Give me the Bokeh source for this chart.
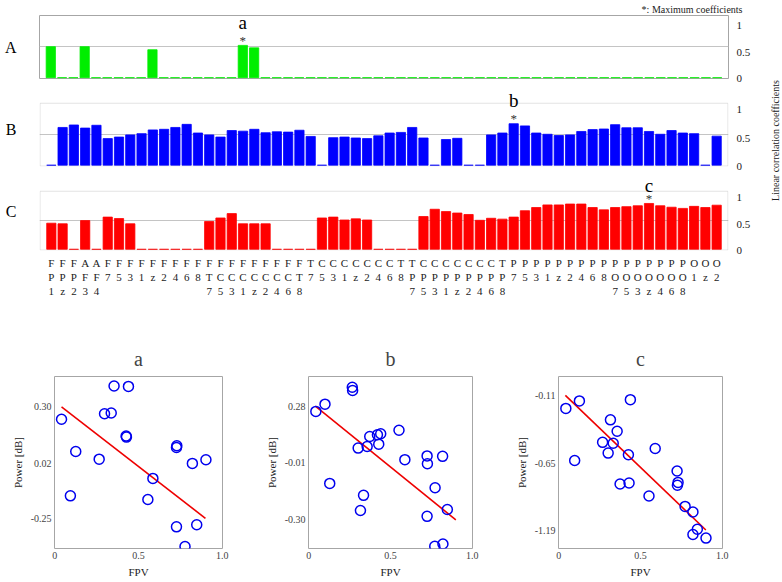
import numpy as np
from bokeh.plotting import figure
from bokeh.models import Range1d, LinearAxis, FixedTicker, Label, PrintfTickFormatter, BoxAnnotation
from bokeh.layouts import column, row
from bokeh.embed import file_html
from bokeh.resources import INLINE

FONT = "Liberation Serif"
EDGE = "#a6a6a6"

channels = ["FP1", "FPz", "FP2", "AF3", "AF4", "F7", "F5", "F3", "F1", "Fz", "F2", "F4", "F6", "F8",
            "FT7", "FC5", "FC3", "FC1", "FCz", "FC2", "FC4", "FC6", "FT8",
            "T7", "C5", "C3", "C1", "Cz", "C2", "C4", "C6", "T8",
            "TP7", "CP5", "CP3", "CP1", "CPz", "CP2", "CP4", "CP6", "TP8",
            "P7", "P5", "P3", "P1", "Pz", "P2", "P4", "P6", "P8",
            "PO7", "PO5", "PO3", "POz", "PO4", "PO6", "PO8", "O1", "Oz", "O2"]

coef_A = [0.50, 0, 0, 0.50, 0, 0, 0, 0, 0, 0.45, 0, 0, 0, 0, 0, 0, 0, 0.52, 0.48, 0,
          0, 0, 0, 0, 0, 0, 0, 0, 0, 0, 0, 0, 0, 0, 0, 0, 0, 0, 0, 0,
          0, 0, 0, 0, 0, 0, 0, 0, 0, 0, 0, 0, 0, 0, 0, 0, 0, 0, 0, 0]

coef_B = [0, 0.61, 0.65, 0.60, 0.645, 0.43, 0.455, 0.49, 0.51, 0.57,
          0.58, 0.61, 0.66, 0.52, 0.49, 0.455, 0.56, 0.55, 0.58, 0.525,
          0.54, 0.535, 0.565, 0.465, 0, 0.445, 0.455, 0.44, 0.43, 0.475,
          0.52, 0.53, 0.61, 0.44, 0, 0.415, 0.435, 0, 0, 0.49,
          0.52, 0.67, 0.635, 0.52, 0.50, 0.48, 0.49, 0.545, 0.575, 0.585,
          0.655, 0.605, 0.605, 0.545, 0.50, 0.56, 0.52, 0.51, 0, 0.47]

coef_C = [0.45, 0.44, 0, 0.495, 0, 0.555, 0.53, 0.44, 0, 0,
          0, 0, 0, 0, 0.48, 0.54, 0.615, 0.44, 0.44, 0.44,
          0, 0, 0, 0, 0.54, 0.555, 0.505, 0.525, 0.505, 0,
          0, 0, 0, 0.565, 0.69, 0.65, 0.625, 0.60, 0.50, 0.535,
          0.52, 0.555, 0.665, 0.72, 0.765, 0.765, 0.78, 0.78, 0.72, 0.68,
          0.72, 0.735, 0.75, 0.79, 0.75, 0.725, 0.705, 0.74, 0.72, 0.76]

max_idx = {"A": 17, "B": 41, "C": 53}
max_tag = {"A": "a", "B": "b", "C": "c"}

fpv_a = [0.040, 0.354, 0.440, 0.297, 0.337, 0.426, 0.428, 0.125, 0.265, 0.093,
         0.586, 0.556, 0.729, 0.727, 0.822, 0.903, 0.727, 0.848, 0.778]
pow_a = [0.239, 0.403, 0.401, 0.266, 0.270, 0.156, 0.151, 0.080, 0.042, -0.139,
         -0.053, -0.157, 0.108, 0.100, 0.021, 0.039, -0.292, -0.282, -0.389]

fpv_b = [0.266, 0.268, 0.099, 0.043, 0.552, 0.373, 0.420, 0.440, 0.428, 0.302,
         0.357, 0.588, 0.724, 0.726, 0.819, 0.128, 0.335, 0.316, 0.773, 0.848,
         0.724, 0.771, 0.821]
pow_b = [0.376, 0.360, 0.290, 0.253, 0.157, 0.125, 0.134, 0.139, 0.086, 0.066,
         0.074, 0.007, 0.026, -0.014, 0.024, -0.114, -0.175, -0.252, -0.136, -0.247,
         -0.282, -0.435, -0.423]

fpv_c = [0.043, 0.126, 0.438, 0.316, 0.357, 0.268, 0.333, 0.302, 0.426, 0.590,
         0.097, 0.375, 0.430, 0.552, 0.724, 0.730, 0.726, 0.773, 0.821, 0.848,
         0.821, 0.901]
pow_c = [-0.214, -0.154, -0.144, -0.305, -0.396, -0.485, -0.492, -0.571, -0.584, -0.534,
         -0.630, -0.818, -0.810, -0.914, -0.714, -0.805, -0.828, -0.997, -1.041, -1.179,
         -1.221, -1.250]

fit_a_x, fit_a_y = [0.04, 0.90], [0.30, -0.25]
fit_b_x, fit_b_y = [0.04, 0.90], [0.28, -0.30]
fit_c_x, fit_c_y = [0.04, 0.90], [-0.11, -1.185]

ticks_a = [-0.25, 0.02, 0.30]
ticks_b = [-0.30, -0.01, 0.28]
ticks_c = [-1.19, -0.65, -0.11]

xpos = list(range(1, len(channels) + 1))
N_SLOTS = len(channels) + 1


def bar_panel(name, values, color, height, top, bottom, with_labels, lab_range,
              y_end, tag_gap):
    if y_end > 1:
        xr = Range1d(-0.05, N_SLOTS + 0.05)
        yr = Range1d(-0.02, y_end)
    else:
        xr = Range1d(0, N_SLOTS)
        yr = Range1d(-0.012, 1)
    p = figure(width=754, height=height, x_range=xr, y_range=yr,
               toolbar_location=None, output_backend="svg",
               x_axis_location="below" if with_labels else None, y_axis_location=None,
               min_border_left=39, min_border_right=26, min_border_top=top,
               min_border_bottom=bottom)
    if y_end > 1:
        # the visible panel box sits inside a taller frame, so the marker
        # letter above it is not clipped
        p.outline_line_color = None
        p.add_layout(BoxAnnotation(left=0, right=N_SLOTS, bottom=-0.012, top=1,
                                   fill_color=None, line_color=EDGE, line_width=1))
    else:
        p.outline_line_color = EDGE
    p.xgrid.visible = False
    p.ygrid.ticker = FixedTicker(ticks=[0.5])
    p.ygrid.grid_line_color = "#c4c4c4"
    p.vbar(x=xpos, top=values, width=0.82, color=color, line_width=0.8)

    la = LinearAxis(ticker=FixedTicker(ticks=[]), axis_label=name)
    la.axis_label_orientation = "horizontal"
    la.axis_label_standoff = 23
    la.axis_label_text_font = FONT
    la.axis_label_text_font_size = "16px"
    la.axis_label_text_font_style = "normal"
    la.axis_label_text_color = "black"
    la.axis_line_color = None
    la.major_tick_out = 0
    la.major_tick_in = 0
    la.minor_tick_out = 0
    la.minor_tick_in = 0
    la.major_label_text_font_size = "0px"
    p.add_layout(la, "left")

    p.extra_y_ranges = {"lab": Range1d(*lab_range)}
    ax = LinearAxis(y_range_name="lab", ticker=FixedTicker(ticks=[0, 0.5, 1]))
    ax.major_label_overrides = {0: "0", 0.5: "0.5", 1: "1"}
    ax.major_tick_out = 0
    ax.major_tick_in = 0
    ax.minor_tick_out = 0
    ax.minor_tick_in = 0
    ax.axis_line_color = None
    ax.major_label_standoff = 8
    ax.major_label_text_font = FONT
    ax.major_label_text_font_size = "11px"
    ax.major_label_text_color = "#222222"
    p.add_layout(ax, "right")
    if with_labels:
        xa = p.xaxis[0]
        xa.ticker = FixedTicker(ticks=xpos)
        xa.major_label_overrides = {i: "\n".join(c) for i, c in zip(xpos, channels)}
        xa.major_tick_out = 0
        xa.major_tick_in = 0
        xa.minor_tick_out = 0
        xa.minor_tick_in = 0
        xa.axis_line_color = None
        xa.major_label_standoff = 6
        xa.major_label_text_font = FONT
        xa.major_label_text_font_size = "11px"
        xa.major_label_text_color = "#222222"
    i = max_idx[name]
    p.add_layout(Label(x=xpos[i], y=values[i] + 0.085, text="*", text_align="center",
                       text_baseline="alphabetic", text_font=FONT, text_font_size="13px",
                       text_color="#333333"))
    p.add_layout(Label(x=xpos[i], y=values[i] + tag_gap, text=max_tag[name], text_align="center",
                       text_baseline="alphabetic", text_font=FONT, text_font_size="19px",
                       text_color="black"))
    return p


pA = bar_panel("A", coef_A, "#00ee00", 89, 14, 11, False, (0.0, 1.196), 1.0, 0.375)
pB = bar_panel("B", coef_B, "#0000ff", 83, 2, 6, False, (0.0, 1.316), 1.19, 0.375)
pC = bar_panel("C", coef_C, "#ff0000", 128, 0, 45, True, (0.0, 1.482), 1.323, 0.31)

pA.title.text = "*: Maximum coefficients"
pA.title.align = "right"
pA.title.offset = -14
pA.title.standoff = 2
pA.title.text_font = FONT
pA.title.text_font_size = "10px"
pA.title.text_font_style = "normal"
pA.title.text_color = "#222222"

labfig = figure(width=26, height=300, x_range=Range1d(0, 1), y_range=Range1d(0, 1),
                x_axis_location=None, y_axis_location=None, min_border=0,
                toolbar_location=None, output_backend="svg")
labfig.outline_line_color = None
labfig.grid.visible = False
labfig.add_layout(Label(x=0.8, y=1 - 140 / 300, angle=np.pi / 2,
                        text="Linear correlation coefficients", text_align="center",
                        text_baseline="middle", text_font=FONT, text_font_size="10px",
                        text_color="#222222"))


def scatter_panel(title, xs, ys, fx, fy, yr, yticks, width, left, right):
    p = figure(width=width, height=280, x_range=Range1d(-0.002, 1.002), y_range=Range1d(*yr),
               toolbar_location=None, output_backend="svg",
               min_border_left=left, min_border_right=right, min_border_top=76,
               min_border_bottom=28, title=title)
    p.title.align = "center"
    p.title.text_font = FONT
    p.title.text_font_size = "20px"
    p.title.text_font_style = "normal"
    p.title.standoff = 13
    p.outline_line_color = EDGE
    p.grid.visible = False
    p.line(fx, fy, color="#ee0000", line_width=1.6)
    p.scatter(xs, ys, size=10, marker="circle", fill_color=None, line_color="#0000ee",
              line_width=1.5)
    p.xaxis.ticker = FixedTicker(ticks=[0, 0.5, 1.0])
    p.xaxis.major_label_overrides = {0: "0", 0.5: "0.5", 1: "1.0"}
    p.yaxis.ticker = FixedTicker(ticks=yticks)
    p.yaxis.formatter = PrintfTickFormatter(format="%.2f")
    p.xaxis.axis_label = "FPV"
    p.yaxis.axis_label = "Power [dB]"
    for ax in (p.xaxis[0], p.yaxis[0]):
        ax.major_tick_out = 0
        ax.major_tick_in = 0
        ax.minor_tick_out = 0
        ax.minor_tick_in = 0
        ax.axis_line_color = None
        ax.major_label_text_font = FONT
        ax.major_label_text_font_size = "10px"
        ax.major_label_text_color = "#444444"
        ax.major_label_standoff = 3
        ax.axis_label_text_font = FONT
        ax.axis_label_text_font_size = "11px"
        ax.axis_label_text_font_style = "normal"
        ax.axis_label_text_color = "#222222"
        ax.axis_label_standoff = 4
    return p


sa = scatter_panel("a", fpv_a, pow_a, fit_a_x, fit_a_y, (-0.399, 0.45), ticks_a, 262, 54, 40)
sb = scatter_panel("b", fpv_b, pow_b, fit_b_x, fit_b_y, (-0.446, 0.431), ticks_b, 250, 42, 40)
sc = scatter_panel("c", fpv_c, pow_c, fit_c_x, fit_c_y, (-1.333, 0.041), ticks_c, 268, 42, 58)

layout = column(row(column(pA, pB, pC), labfig), row(sa, sb, sc))

open("out.html", "w").write(file_html(layout, INLINE))
